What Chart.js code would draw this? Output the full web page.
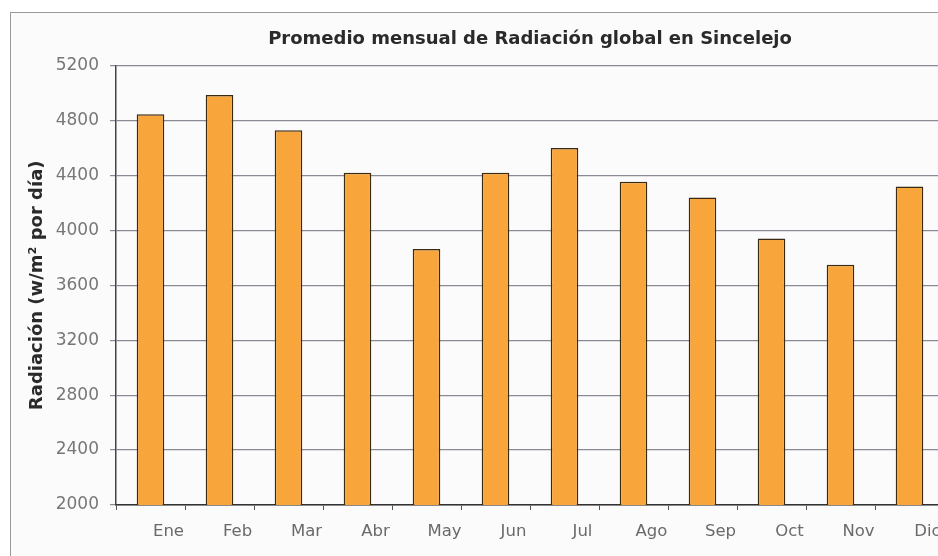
<!DOCTYPE html>
<html>
<head>
<meta charset="utf-8">
<script src="https://cdn.jsdelivr.net/npm/chart.js@4.4.1/dist/chart.umd.min.js"></script>
<style>
  html, body { margin: 0; padding: 0; background: #fff; overflow: hidden; }
  #wrap { position: relative; width: 960px; height: 556px; overflow: hidden; }
  #frame { position: absolute; left: 10px; top: 12px; width: 960px; height: 600px;
           border: 1px solid #9a9a9a; background: #fbfbfb; }
  #chart { position: absolute; left: 0; top: 0; }
</style>
</head>
<body>
<div id="wrap">
  <div id="frame"></div>
  <canvas id="chart" width="944" height="556"></canvas>
</div>
<script>
const months = ['Ene', 'Feb', 'Mar', 'Abr', 'May', 'Jun', 'Jul', 'Ago', 'Sep', 'Oct', 'Nov', 'Dic'];
const radiacion = [4845, 4985, 4730, 4420, 3865, 4420, 4600, 4355, 4240, 3940, 3750, 4320];
const yTicks = [2000, 2400, 2800, 3200, 3600, 4000, 4400, 4800, 5200];

const ctx = document.getElementById('chart').getContext('2d');
new Chart(ctx, {
  type: 'bar',
  data: {
    labels: months,
    datasets: [{
      data: radiacion,
      backgroundColor: '#f8a53c',
      borderColor: '#3b2a12',
      borderWidth: 1.5,
      categoryPercentage: 1,
      barPercentage: 0.4
    }]
  },
  options: {
    responsive: false,
    animation: false,
    layout: { padding: 0 },
    plugins: {
      legend: { display: false },
      tooltip: { enabled: false },
      title: {
        display: true,
        fullSize: false,
        text: 'Promedio mensual de Radiación global en Sincelejo',
        color: '#2a2a2a',
        font: { family: 'DejaVu Sans', size: 18, weight: 'bold' },
        padding: { top: 29, bottom: 15 }
      }
    },
    scales: {
      x: {
        grid: { display: true, drawOnChartArea: false, tickLength: 5, color: '#555', offset: true },
        border: { color: '#333', width: 1.5 },
        ticks: { color: '#6a6a6a', font: { family: 'DejaVu Sans', size: 16.5 }, padding: 12, labelOffset: 18 },
        afterFit: (scale) => { scale.height = 51; }
      },
      y: {
        min: 2000,
        max: 5200,
        afterBuildTicks: (scale) => { scale.ticks = yTicks.map(v => ({ value: v })); },
        grid: { color: '#8a8a96', lineWidth: 1.2, tickLength: 6 },
        border: { color: '#444', width: 1.5 },
        ticks: {
          color: '#777',
          font: { family: 'DejaVu Sans', size: 17 },
          padding: 11,
          callback: (v) => String(v)
        },
        title: {
          display: true,
          text: 'Radiación (w/m² por día)',
          color: '#2a2a2a',
          font: { family: 'DejaVu Sans', size: 18, weight: 'bold' },
          padding: { top: 27, bottom: 0 }
        },
        afterFit: (scale) => { scale.width = 116; }
      }
    }
  }
});
</script>
</body>
</html>
